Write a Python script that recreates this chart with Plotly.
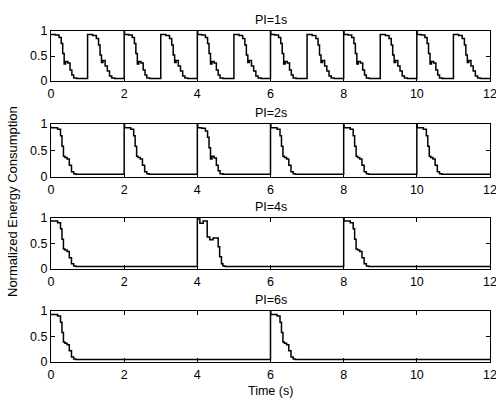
import plotly.graph_objects as go

# ---- data ----
titles = ["PI=1s", "PI=2s", "PI=4s", "PI=6s"]
pulse_starts = [
    [0, 1, 2, 3, 4, 5, 6, 7, 8, 9, 10, 11],
    [0, 2, 4, 6, 8, 10],
    [0, 4, 8],
    [0, 6],
]
# which profile each pulse uses (index into profiles)
pulse_profile = [
    [0, 1, 0, 1, 0, 1, 0, 1, 0, 1, 0, 1],
    [2, 2, 0, 2, 2, 2],
    [2, 3, 2],
    [2, 2],
]
# pulse peak at start (spike to full scale on some pulses)
pulse_peak = [
    [0.93, 0.93, 1.0, 0.93, 1.0, 0.93, 1.0, 0.93, 1.0, 0.93, 1.0, 0.93],
    [0.94, 1.0, 1.0, 1.0, 1.0, 1.0],
    [0.93, 1.0, 1.0],
    [0.93, 1.0],
]
# step profiles: offsets (s) from pulse start and normalized values
prof_t = [
    [0.01, 0.12, 0.22, 0.28, 0.32, 0.36, 0.40, 0.46, 0.52, 0.57, 0.62, 0.70],
    [0.01, 0.14, 0.24, 0.30, 0.34, 0.38, 0.42, 0.48, 0.54, 0.60, 0.66, 0.74],
    [0.01, 0.18, 0.26, 0.30, 0.34, 0.38, 0.44, 0.50, 0.56, 0.62, 0.68, 0.76],
    [0.01, 0.07, 0.16, 0.27, 0.34, 0.43, 0.57, 0.61, 0.66, 0.70, 0.76, 0.85],
]
prof_v = [
    [0.93, 0.92, 0.87, 0.75, 0.55, 0.34, 0.39, 0.36, 0.22, 0.12, 0.06, 0.05],
    [0.93, 0.91, 0.85, 0.72, 0.52, 0.37, 0.41, 0.30, 0.20, 0.10, 0.06, 0.05],
    [0.93, 0.90, 0.78, 0.58, 0.39, 0.37, 0.34, 0.22, 0.10, 0.06, 0.05, 0.05],
    [0.97, 0.89, 0.93, 0.62, 0.57, 0.60, 0.43, 0.24, 0.10, 0.06, 0.05, 0.05],
]
x_end = 12
base_level = 0.05
x_ticks = [0, 2, 4, 6, 8, 10, 12]
y_ticks = [0, 0.5, 1]
y_tick_text = ["0", "0.5", "1"]

# ---- layout geometry (pixels) ----
W, H = 496, 398
x_left, x_right = 51, 490
panel_px = [(31, 81), (124, 177), (217.5, 269), (311, 362)]

fig = go.Figure()
font = dict(family="Liberation Sans, Arial, sans-serif", size=12.5, color="black")

for i in range(4):
    xs, ys = [], []
    for s, p, pk in zip(pulse_starts[i], pulse_profile[i], pulse_peak[i]):
        xs.append(s)
        ys.append(pk)
        for dt, v in zip(prof_t[p], prof_v[p]):
            xs.append(s + dt)
            ys.append(v)
    xs.append(x_end)
    ys.append(base_level)
    n = "" if i == 0 else str(i + 1)
    fig.add_trace(go.Scatter(x=xs, y=ys, mode="lines", line=dict(color="black", width=1.5, shape="hv"),
                             xaxis="x" + n, yaxis="y" + n, showlegend=False, hoverinfo="skip"))
    top, bot = panel_px[i]
    fig.layout["xaxis" + n] = dict(domain=[x_left / W, x_right / W], anchor="y" + n, range=[0, 12],
                                   tickvals=x_ticks, ticks="inside", ticklen=4, tickcolor="black",
                                   showline=True, linecolor="black", linewidth=1, mirror="allticks",
                                   showgrid=False, zeroline=False, tickfont=font, automargin=False,
                                   ticklabeloverflow="allow", ticklabelstandoff=1)
    fig.layout["yaxis" + n] = dict(domain=[1 - bot / H, 1 - top / H], anchor="x" + n, range=[0, 1],
                                   tickvals=y_ticks, ticktext=y_tick_text, ticks="inside", ticklen=4,
                                   tickcolor="black", showline=True, linecolor="black", linewidth=1,
                                   mirror="allticks", showgrid=False, zeroline=False, tickfont=font,
                                   automargin=False, ticklabeloverflow="allow")
    fig.add_annotation(text=titles[i], x=(x_left + x_right) / 2 / W, y=1 - (top - 11) / H,
                       xref="paper", yref="paper", showarrow=False, yanchor="middle",
                       xanchor="center", font=font, borderpad=0)

fig.add_annotation(text="Time (s)", x=(x_left + x_right) / 2 / W, y=1 - 391 / H, xref="paper",
                   yref="paper", showarrow=False, yanchor="middle", xanchor="center", font=font,
                   borderpad=0)
fig.add_annotation(text="Normalized Energy Consumption", x=12 / W, y=1 - 202 / H, xref="paper",
                   yref="paper", showarrow=False, textangle=-90, xanchor="center", yanchor="middle",
                   font=dict(family="Liberation Sans, Arial, sans-serif", size=13, color="black"))

fig.update_layout(width=W, height=H, margin=dict(l=0, r=0, t=0, b=0),
                  paper_bgcolor="white", plot_bgcolor="white")
fig.write_html("out.html", config={"displayModeBar": False},
               post_script="document.body.style.margin='0';document.body.style.overflow='hidden';")
